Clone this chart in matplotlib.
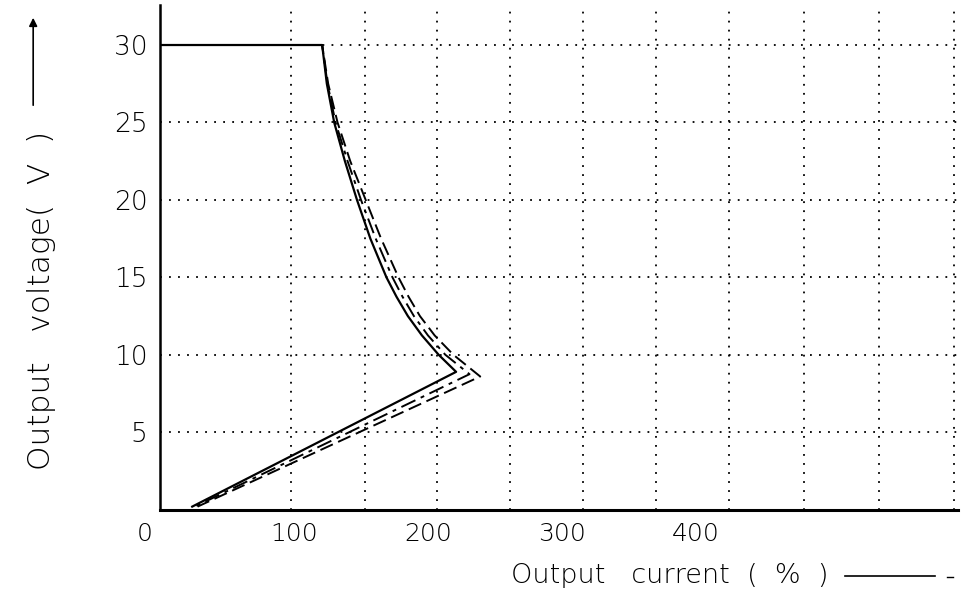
import matplotlib
matplotlib.use("Agg")
import matplotlib.pyplot as plt
import matplotlib.transforms as mtransforms

plt.rcParams['font.family'] = ['DejaVu Sans']

# ---- data ----
# output current (%) vs output voltage (V) for three sample curves
solid_i = [0, 121, 124.5, 130, 138, 147, 157, 169, 176.5, 185, 195.5, 208, 221, 24]
solid_v = [30, 30, 27.5, 25, 22.5, 20, 17.5, 15, 13.75, 12.5, 11.25, 10, 8.9, 0.2]

dashdot_i = [0, 121, 125, 131, 140, 150, 161, 173.5, 181, 189.5, 200, 213, 231, 26]
dashdot_v = [30, 30, 27.5, 25, 22.5, 20, 17.5, 15, 13.75, 12.5, 11.25, 10, 8.75, 0.2]

dashed_i = [0, 121, 125.5, 132.5, 142, 153.5, 165, 178, 185.5, 194, 205, 219, 239, 28]
dashed_v = [30, 30, 27.5, 25, 22.5, 20, 17.5, 15, 13.75, 12.5, 11.25, 10, 8.6, 0.2]

x_ticks = [0, 100, 200, 300, 400]
x_ticklabels = ["0", "100", "200", "300", "400"]
y_ticks = [5, 10, 15, 20, 25, 30]
y_ticklabels = ["5", "10", "15", "20", "25", "30"]

# grid of the printed chart paper (not aligned with the current ticks)
x_grid = [98, 153, 207, 261, 316, 370, 425, 481, 537, 593]
y_grid = [5, 10, 15, 20, 25, 30]

fig = plt.figure(figsize=(9.76, 5.92), dpi=100)
ax = fig.add_axes([0.164, 0.139, 0.818, 0.853])
ax.set_xlim(0, 596)
ax.set_ylim(0, 32.6)

dot = (0, (1, 4))
for gx in x_grid:
    ax.axvline(gx, color='black', lw=1.3, ls=dot, zorder=1)
for gy in y_grid:
    ax.axhline(gy, color='black', lw=1.3, ls=dot, zorder=1)

ax.plot(solid_i, solid_v, color='black', lw=1.6, ls='-', zorder=3)
ax.plot(dashdot_i, dashdot_v, color='black', lw=1.4, ls=(0, (8, 3, 2, 3)), zorder=3)
ax.plot(dashed_i, dashed_v, color='black', lw=1.4, ls=(0, (7, 3)), zorder=3)

for s in ['top', 'right']:
    ax.spines[s].set_visible(False)
ax.spines['left'].set_linewidth(1.8)
ax.spines['bottom'].set_linewidth(2.2)

ax.set_xticks(x_ticks)
ax.set_xticklabels(x_ticklabels, fontsize=18, fontweight='light')
ax.set_yticks(y_ticks)
ax.set_yticklabels(y_ticklabels, fontsize=19, fontweight='light')
ax.tick_params(axis='both', length=0)
ax.tick_params(axis='x', pad=9)
ax.tick_params(axis='y', pad=9)

# shift the corner "0" label slightly left
lbl0 = ax.get_xticklabels()[0]
lbl0.set_transform(lbl0.get_transform() +
                   mtransforms.ScaledTranslation(-15 / 100, 0, fig.dpi_scale_trans))

# y axis label with arrow
fig.text(0.043, 1 - 300 / 592, "Output   voltage(  V  )", rotation=90, fontsize=22.5,
         fontweight='light', ha='center', va='center')
fig.add_artist(matplotlib.patches.FancyArrowPatch(
    (0.034, 1 - 108 / 592), (0.034, 1 - 15 / 592), transform=fig.transFigure,
    arrowstyle='-|>', mutation_scale=12, color='black', lw=1.2))

# x axis label with trailing line
fig.text(0.524, 1 - 575 / 592, "Output   current  (  %  )", fontsize=19.5,
         fontweight='light', ha='left', va='center')
fig.add_artist(matplotlib.lines.Line2D([845 / 976, 935 / 976], [1 - 576 / 592, 1 - 576 / 592],
                                       transform=fig.transFigure, color='black', lw=1.2))
fig.add_artist(matplotlib.lines.Line2D([947 / 976, 953 / 976], [1 - 577 / 592, 1 - 577 / 592],
                                       transform=fig.transFigure, color='black', lw=1.0))

fig.savefig("out.png", dpi=100)
